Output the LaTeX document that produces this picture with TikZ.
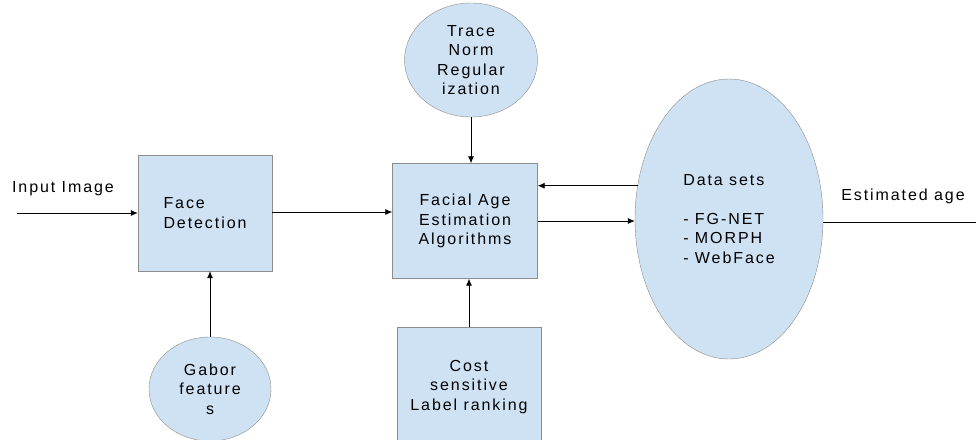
\documentclass[tikz,border=0pt]{standalone}
\usepackage{fontspec}
\setmainfont{Liberation Sans}[LetterSpace=12]
\usepackage{tikz}
\usetikzlibrary{positioning, shapes.geometric, arrows.meta}

\definecolor{boxfill}{RGB}{207,226,243}
\definecolor{boxline}{RGB}{140,140,140}

\begin{document}
\begin{tikzpicture}[x = 1pt, y = -1pt,
  every node/.style = {font = \fontsize{16}{19.5}\selectfont},
  box/.style = {draw = boxline, fill = boxfill, inner sep = 0pt},
  blob/.style = {box, ellipse, inner sep = 0pt},
  link/.style = {-{Latex[length = 7pt, width = 6pt]}, line width = 0.8pt}]
\useasboundingbox (0,0) rectangle (976,439);
\clip (0,0) rectangle (976,439);

\node[box, minimum width = 134, minimum height = 116, align = left] (face) at (205,213) {Face\\Detection};
\node[box, minimum width = 145, minimum height = 115, align = center] (fac) at (465,221) {Facial Age\\Estimation\\Algorithms};
\node[blob, minimum width = 133, minimum height = 114, align = center] (trace) at (471,60) {Trace\\Norm\\Regular\\ization};
\node[blob, minimum width = 188, minimum height = 280, align = left] (data) at (729,219) {Data sets\\[19pt]- FG-NET\\- MORPH\\- WebFace};
\node[blob, minimum width = 122, minimum height = 104, align = center] (gabor) at (210,389) {Gabor\\feature\\s};
\node[box, minimum width = 144, minimum height = 120, align = center] (cost) at (469,387) {Cost\\sensitive\\Label ranking};

\node (inlabel) at (63,189) {Input Image};
\node (outlabel) at (903,196) {Estimated age};
\coordinate (in) at (17,213);
\coordinate (out) at (976,222);

\draw[link] (in) -- (face.west);
\draw[link] (face.east |- 0,212) -- (fac.west |- 0,212);
\draw[link] (trace.south) -- (trace.south |- fac.north);
\draw[link] (data.160) -- (data.160 -| fac.east);
\draw[link] (fac.east) -- (fac.east -| data.west);
\draw[line width = 0.8pt] (data.-2) -- (data.-2 -| out);
\draw[link] (gabor.north) -- (gabor.north |- face.south);
\draw[link] (cost.north) -- (cost.north |- fac.south);
\end{tikzpicture}
\end{document}
